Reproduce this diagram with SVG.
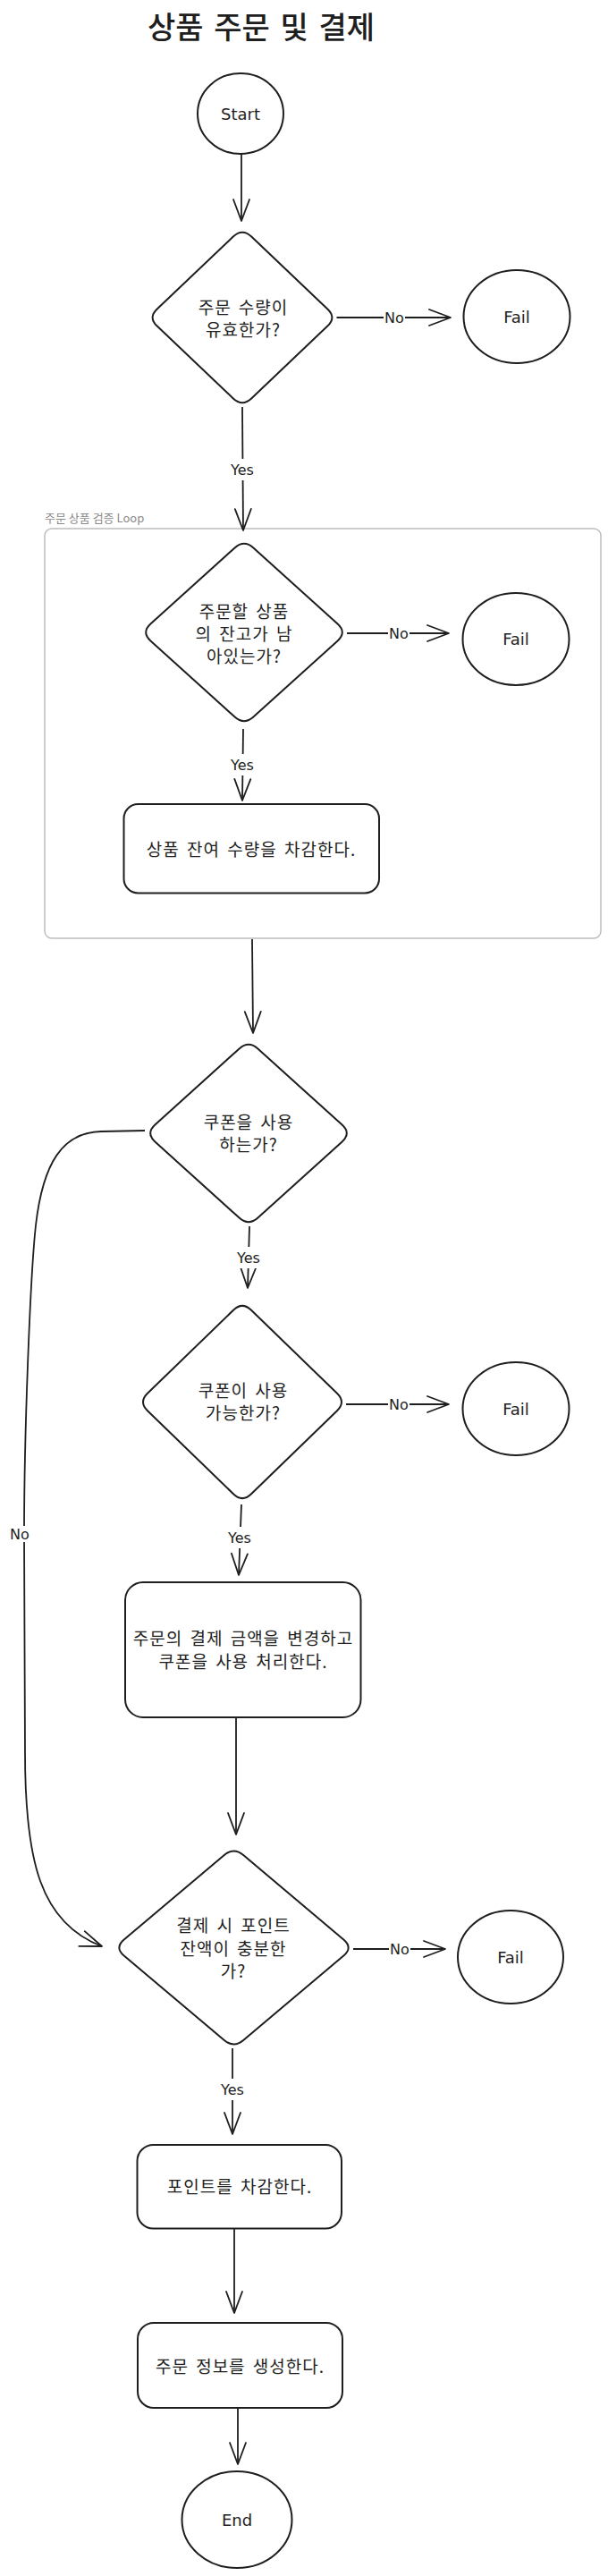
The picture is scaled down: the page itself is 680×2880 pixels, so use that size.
<svg xmlns="http://www.w3.org/2000/svg" width="680" height="2880" viewBox="0 0 680 2880">
<style>
.shape{fill:#ffffff;stroke:#1e1e1e;stroke-width:2;}
.ko{font-family:"Noto Sans CJK KR","Noto Sans",sans-serif;font-size:19px;letter-spacing:1px;word-spacing:3px;fill:#1e1e1e;text-anchor:middle;dominant-baseline:central;}
.lat{font-family:"DejaVu Sans","Noto Sans",sans-serif;font-size:18px;fill:#1e1e1e;text-anchor:middle;dominant-baseline:central;}
.lbl{font-family:"DejaVu Sans","Noto Sans",sans-serif;font-size:16px;fill:#1e1e1e;text-anchor:middle;dominant-baseline:central;}
.lbg{fill:#ffffff;stroke:none;}
.edge{fill:none;stroke:#1e1e1e;stroke-width:1.8;marker-end:url(#ah);}
.title{font-family:"Noto Sans CJK KR",sans-serif;font-size:34px;font-weight:500;fill:#1e1e1e;text-anchor:middle;word-spacing:4px;}
.grp{fill:none;stroke:#bdbdbd;stroke-width:1.5;}
.grplbl{font-family:"Noto Sans CJK KR",sans-serif;font-size:13px;fill:#8a8a8a;dominant-baseline:central;}
</style>
<defs>
<marker id="ah" markerUnits="userSpaceOnUse" markerWidth="30" markerHeight="24" viewBox="-27 -12 30 24" refX="0" refY="0" orient="auto" overflow="visible">
<path d="M-24,-9 L0,0 L-24,9" fill="none" stroke="#1e1e1e" stroke-width="1.8" stroke-linecap="round" stroke-linejoin="round"/>
</marker>
</defs>

<rect width="680" height="2880" fill="#ffffff"/>

<text id="title" class="title" x="292" y="43">상품 주문 및 결제</text>

<g id="loop-group">
<rect class="grp" x="50" y="591" width="622" height="458" rx="8"/>
<text class="grplbl" x="50" y="578">주문 상품 검증 Loop</text>
</g>

<g id="connectors">
<path class="edge" d="M270,172 L270,247"/>
<path class="edge" d="M376.5,355 L504,355"/>
<path class="edge" d="M271,455 L272,593"/>
<path class="edge" d="M388,708 L502,708"/>
<path class="edge" d="M272,815 L271,895"/>
<path class="edge" d="M282,1050 L283,1155"/>
<path class="edge" d="M279,1371 L277,1440"/>
<path class="edge" d="M162,1264 L113,1265 C70,1266 48,1300 40,1370 C34,1425 27,1600 27,1715 C27,1830 28,1900 28,1960 C28,2080 45,2150 114,2176"/>
<path class="edge" d="M387,1570 L502,1570"/>
<path class="edge" d="M270,1682 L267,1761"/>
<path class="edge" d="M264,1920 L264,2051"/>
<path class="edge" d="M395,2179 L498,2179"/>
<path class="edge" d="M260,2290 L260,2386"/>
<path class="edge" d="M262,2491.5 L262,2586"/>
<path class="edge" d="M266,2692 L266,2755"/>

<rect class="lbg" x="429" y="346" width="24" height="18"/>
<text class="lbl" x="441" y="355">No</text>
<rect class="lbg" x="254" y="513" width="34" height="24"/>
<text class="lbl" x="271" y="525">Yes</text>
<rect class="lbg" x="434" y="699" width="24" height="18"/>
<text class="lbl" x="446" y="708">No</text>
<rect class="lbg" x="254" y="843" width="34" height="24"/>
<text class="lbl" x="271" y="855">Yes</text>
<rect class="lbg" x="261" y="1394" width="34" height="24"/>
<text class="lbl" x="278" y="1406">Yes</text>
<rect class="lbg" x="10" y="1706" width="24" height="18"/>
<text class="lbl" x="22" y="1715">No</text>
<rect class="lbg" x="434" y="1561" width="24" height="18"/>
<text class="lbl" x="446" y="1570">No</text>
<rect class="lbg" x="251" y="1707" width="34" height="24"/>
<text class="lbl" x="268" y="1719">Yes</text>
<rect class="lbg" x="435" y="2170" width="24" height="18"/>
<text class="lbl" x="447" y="2179">No</text>
<rect class="lbg" x="243" y="2324" width="34" height="24"/>
<text class="lbl" x="260" y="2336">Yes</text>
</g>

<g id="start">
<ellipse class="shape" cx="269" cy="127" rx="48" ry="45"/>
<text class="lat" x="269" y="127">Start</text>
</g>

<g id="check-qty">
<path class="shape" d="M281.2,264.6 L366.3,345.4 Q376.5,355 366.3,364.6 L281.2,445.4 Q271,455 260.8,445.4 L175.7,364.6 Q165.5,355 175.7,345.4 L260.8,264.6 Q271,255 281.2,264.6 Z"/>
<text class="ko" x="272" y="342">주문 수량이</text>
<text class="ko" x="272" y="367">유효한가?</text>
</g>

<g id="fail-1">
<ellipse class="shape" cx="578" cy="354" rx="59.5" ry="52"/>
<text class="lat" x="578" y="354">Fail</text>
</g>

<g id="check-stock">
<path class="shape" d="M283.4,612.4 L377.6,697.6 Q388,707 377.6,716.4 L283.4,801.6 Q273,811 262.6,801.6 L168.4,716.4 Q158,707 168.4,697.6 L262.6,612.4 Q273,603 283.4,612.4 Z"/>
<text class="ko" x="273" y="682">주문할 상품</text>
<text class="ko" x="273" y="707">의 잔고가 남</text>
<text class="ko" x="273" y="732">아있는가?</text>
</g>

<g id="fail-2">
<ellipse class="shape" cx="577" cy="714.5" rx="59.5" ry="51.5"/>
<text class="lat" x="577" y="714.5">Fail</text>
</g>

<g id="deduct-stock">
<rect class="shape" x="138.5" y="899" width="285.5" height="99.5" rx="16"/>
<text class="ko" x="281" y="948">상품 잔여 수량을 차감한다.</text>
</g>

<g id="use-coupon">
<path class="shape" d="M288.4,1172.4 L382.6,1257.6 Q393,1267 382.6,1276.4 L288.4,1361.6 Q278,1371 267.6,1361.6 L173.4,1276.4 Q163,1267 173.4,1257.6 L267.6,1172.4 Q278,1163 288.4,1172.4 Z"/>
<text class="ko" x="278" y="1253">쿠폰을 사용</text>
<text class="ko" x="278" y="1278">하는가?</text>
</g>

<g id="coupon-valid">
<path class="shape" d="M281,1464.7 L377,1557.8 Q387,1567.5 377,1577.2 L281,1670.3 Q271,1680 261,1670.3 L165,1577.2 Q155,1567.5 165,1557.8 L261,1464.7 Q271,1455 281,1464.7 Z"/>
<text class="ko" x="272" y="1553">쿠폰이 사용</text>
<text class="ko" x="272" y="1578">가능한가?</text>
</g>

<g id="fail-3">
<ellipse class="shape" cx="577" cy="1575" rx="59.5" ry="52"/>
<text class="lat" x="577" y="1575">Fail</text>
</g>

<g id="apply-coupon">
<rect class="shape" x="140" y="1769" width="263.5" height="151" rx="20"/>
<text class="ko" x="272" y="1830">주문의 결제 금액을 변경하고</text>
<text class="ko" x="272" y="1856">쿠폰을 사용 처리한다.</text>
</g>

<g id="check-points">
<path class="shape" d="M272.2,2074 L384.3,2168.5 Q395,2177.5 384.3,2186.5 L272.2,2281 Q261.5,2290 250.8,2281 L138.7,2186.5 Q128,2177.5 138.7,2168.5 L250.8,2074 Q261.5,2065 272.2,2074 Z"/>
<text class="ko" x="261" y="2151">결제 시 포인트</text>
<text class="ko" x="261" y="2177">잔액이 충분한</text>
<text class="ko" x="261" y="2202">가?</text>
</g>

<g id="fail-4">
<ellipse class="shape" cx="571" cy="2188" rx="59" ry="52"/>
<text class="lat" x="571" y="2188">Fail</text>
</g>

<g id="deduct-points">
<rect class="shape" x="153.5" y="2398" width="228.5" height="93.5" rx="18"/>
<text class="ko" x="268" y="2443">포인트를 차감한다.</text>
</g>

<g id="create-order">
<rect class="shape" x="154" y="2597" width="229" height="95" rx="18"/>
<text class="ko" x="268.5" y="2644">주문 정보를 생성한다.</text>
</g>

<g id="end">
<ellipse class="shape" cx="265" cy="2817" rx="61.5" ry="54"/>
<text class="lat" x="265" y="2817">End</text>
</g>
</svg>
